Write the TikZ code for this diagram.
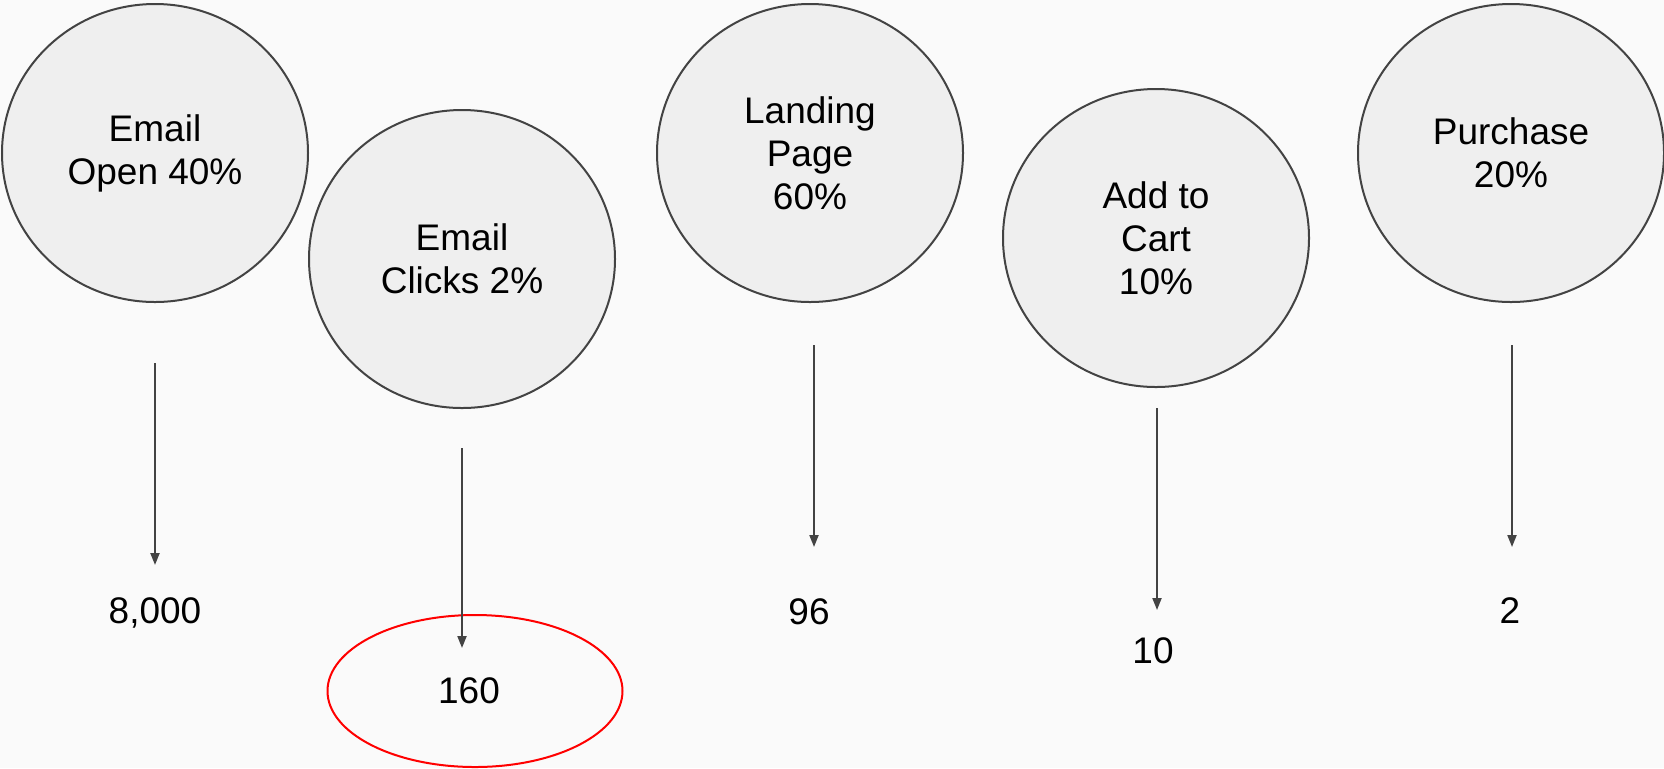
\documentclass[tikz,border=0pt]{standalone}
\usepackage{fontspec}
\setmainfont{Liberation Sans}
\usetikzlibrary{arrows.meta,shapes.geometric}
\definecolor{bgc}{HTML}{FAFAFA}
\definecolor{stagec}{HTML}{EFEFEF}
\definecolor{edgec}{HTML}{434343}
\definecolor{markc}{HTML}{FF0000}
\begin{document}
\begin{tikzpicture}[x=0.5pt,y=-0.5pt,
  stage/.style={ellipse,draw=edgec,fill=stagec,line width=1pt,minimum width=153pt,
    minimum height=149pt,inner sep=0pt,align=center,font=\fontsize{18.5}{21.5}\selectfont},
  count/.style={anchor=base,inner sep=0pt,font=\fontsize{18.5}{21.5}\selectfont},
  flow/.style={draw=edgec,line width=1pt,-{Triangle[width=4.5pt,length=6pt]}}]

\fill[bgc] (0,0) rectangle (1664,768);
\useasboundingbox (0,0) rectangle (1664,768);

% funnel stages
\node[stage] (open) at (155,153) {Email\\Open 40\%};
\node[stage] (clicks) at (462,259) {Email\\Clicks 2\%};
\node[stage] (landing) at (810,153) {Landing\\Page\\60\%};
\node[stage] (cart) at (1156,238) {Add to\\Cart\\10\%};
\node[stage] (purchase) at (1511,153) {Purchase\\20\%};

% counts
\node[count] (nopen) at (155,623) {8,000};
\node[count] (nclicks) at (469,703) {160};
\node[count] (nlanding) at (809,624) {96};
\node[count] (ncart) at (1153,663) {10};
\node[count] (npurchase) at (1510,623) {2};
\node[ellipse,draw=markc,line width=1pt,minimum width=147.5pt,minimum height=76pt] (ring) at (475,691) {};

%\draw[flow] (open) -- (nopen);
\coordinate (s1) at (155,363); \coordinate (e1) at (155,565);
\coordinate (s2) at (462,448); \coordinate (e2) at (462,648);
\coordinate (s3) at (814,345); \coordinate (e3) at (814,547);
\coordinate (s4) at (1157,408); \coordinate (e4) at (1157,610);
\coordinate (s5) at (1512,345); \coordinate (e5) at (1512,547);
\foreach \i in {1,2,3,4,5} { \draw[flow] (s\i) -- (e\i); }

\end{tikzpicture}
\end{document}
